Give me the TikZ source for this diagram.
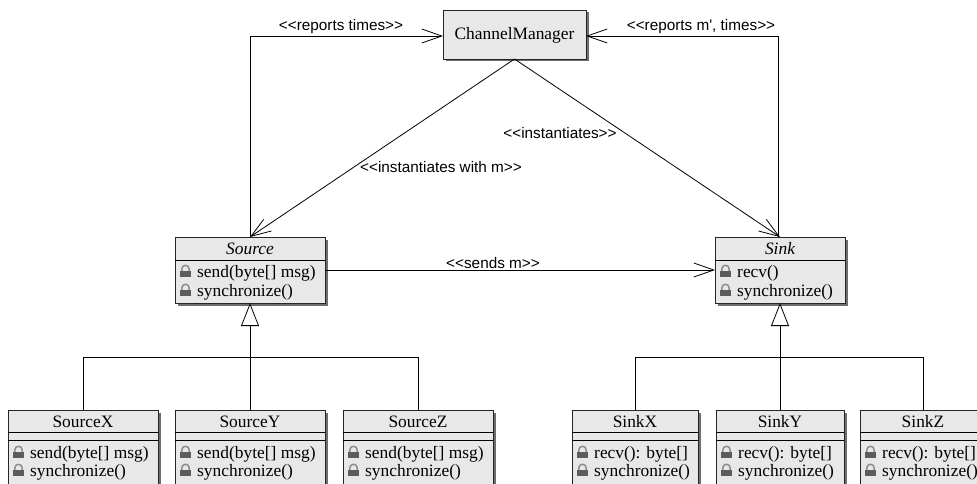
\documentclass[tikz,border=0pt]{standalone}
\usepackage{fontspec}
\setmainfont{Liberation Serif}
\newfontfamily\stereofont{Liberation Sans}
\usetikzlibrary{arrows.meta}

\definecolor{boxfill}{HTML}{E8E8E8}
\definecolor{boxshadow}{HTML}{6E6E6E}
\definecolor{lockbody}{HTML}{5C5C5C}
\definecolor{lockring}{HTML}{8C8C8C}

% class frame with its drop shadow: name, left, top, right, bottom
\newcommand{\umlframe}[5]{%
  \fill[boxshadow] (#2+2.5,#3+2.5) rectangle (#4+2.5,#5+2.5);
  \node[classframe, minimum width=#4-#2, minimum height=#5-#3] (#1) at (#2,#3) {};
}
% one operation row: left edge of the box, baseline, text
\newcommand{\umlop}[3]{%
  \pic at (#1+10.5,#2-5.5) {padlock};
  \node[member] at (#1+22,#2) {#3};
}

\begin{document}
\begin{tikzpicture}[x=1pt,y=-1pt,
  classframe/.style={draw=black!85, fill=boxfill, line width=0.9pt,
    inner sep=0pt, outer sep=0pt, anchor=north west},
  classtitle/.style={font=\fontsize{17.4}{17.4}\selectfont, inner sep=0pt, anchor=base},
  member/.style={font=\fontsize{17.4}{17.4}\selectfont, inner sep=0pt, anchor=base west},
  stereo/.style={font=\stereofont\fontsize{15.3}{15.3}\selectfont, inner sep=0pt},
  link/.style={line width=0.8pt, draw=black},
  dep/.style={link, -{Straight Barb[length=20pt,width=14pt,line width=0.8pt]}},
  gen/.style={link, -{Triangle[open,length=23pt,width=18pt,line width=0.8pt,fill=white]}},
  padlock/.pic={
    \draw[lockring, line width=1.5pt, rounded corners=3.5pt]
      (-3.6,0) -- (-3.6,-6.2) -- (3.6,-6.2) -- (3.6,0);
    \fill[lockbody] (-5.2,-0.8) rectangle (5.2,5.5);
  }
]
\useasboundingbox (0,0) rectangle (977,484);
\fill[white] (0,0) rectangle (977,484);

% ---------- ChannelManager ----------
\umlframe{cm}{443}{10}{586}{59}
\node[classtitle] at (514.5,40) {ChannelManager};

% ---------- Source ----------
\umlframe{src}{175}{237}{325}{303}
\draw[link] (175,260) -- (325,260);
\node[classtitle] at (250,254.5) {\itshape Source};
\umlop{175}{277}{send(byte[] msg)}
\umlop{175}{296}{synchronize()}

% ---------- Sink ----------
\umlframe{snk}{715}{237}{845}{303}
\draw[link] (715,260) -- (845,260);
\node[classtitle] at (780,254.5) {\itshape Sink};
\umlop{715}{277}{recv()}
\umlop{715}{296}{synchronize()}

% ---------- concrete sources ----------
\umlframe{sx}{8}{410}{158}{492}
\draw[link] (8,432) -- (158,432);
\draw[link] (8,440) -- (158,440);
\node[classtitle] at (83,427) {SourceX};
\umlop{8}{458}{send(byte[] msg)}
\umlop{8}{476}{synchronize()}

\umlframe{sy}{175}{410}{325}{492}
\draw[link] (175,432) -- (325,432);
\draw[link] (175,440) -- (325,440);
\node[classtitle] at (250,427) {SourceY};
\umlop{175}{458}{send(byte[] msg)}
\umlop{175}{476}{synchronize()}

\umlframe{sz}{343}{410}{493}{492}
\draw[link] (343,432) -- (493,432);
\draw[link] (343,440) -- (493,440);
\node[classtitle] at (418,427) {SourceZ};
\umlop{343}{458}{send(byte[] msg)}
\umlop{343}{476}{synchronize()}

% ---------- concrete sinks ----------
\umlframe{kx}{572}{410}{698}{492}
\draw[link] (572,432) -- (698,432);
\draw[link] (572,440) -- (698,440);
\node[classtitle] at (635,427) {SinkX};
\umlop{572}{458}{recv(): byte[]}
\umlop{572}{476}{synchronize()}

\umlframe{ky}{716}{410}{844}{492}
\draw[link] (716,432) -- (844,432);
\draw[link] (716,440) -- (844,440);
\node[classtitle] at (780,427) {SinkY};
\umlop{716}{458}{recv(): byte[]}
\umlop{716}{476}{synchronize()}

\umlframe{kz}{860}{410}{986}{492}
\draw[link] (860,432) -- (986,432);
\draw[link] (860,440) -- (986,440);
\node[classtitle] at (923,427) {SinkZ};
\umlop{860}{458}{recv(): byte[]}
\umlop{860}{476}{synchronize()}

% ---------- dependencies ----------
\draw[dep] (cm.south) -- (src.north);
\draw[dep] (cm.south) -- (snk.north);
\draw[dep] (src.east) -- (snk.west);
\draw[dep] (src.north) |- ([yshift=-1.5pt]cm.west);
\draw[dep] ([xshift=-2pt]snk.north) |- ([yshift=-1.5pt]cm.east);

\node[stereo] (lblrt) at (341,27) {<{}<reports times>{}>};
\node[stereo] (lblrm) at (701,27) {<{}<reports m', times>{}>};
\node[stereo] (lblin) at (560,133) {<{}<instantiates>{}>};
\node[stereo] (lbliw) at (441,167) {<{}<instantiates with m>{}>};
\node[stereo] (lblsm) at (493,263) {<{}<sends m>{}>};

% ---------- generalisations ----------
\coordinate (srcbar) at (250,357);
\coordinate (snkbar) at (780,357);
\draw[link] (sx.north) -- (sx.north |- srcbar) -- (sz.north |- srcbar) -- (sz.north);
\draw[gen] (sy.north) -- (src.south);
\draw[link] (kx.north) -- (kx.north |- snkbar) -- (kz.north |- snkbar) -- (kz.north);
\draw[gen] (ky.north) -- (snk.south);
\end{tikzpicture}
\end{document}
